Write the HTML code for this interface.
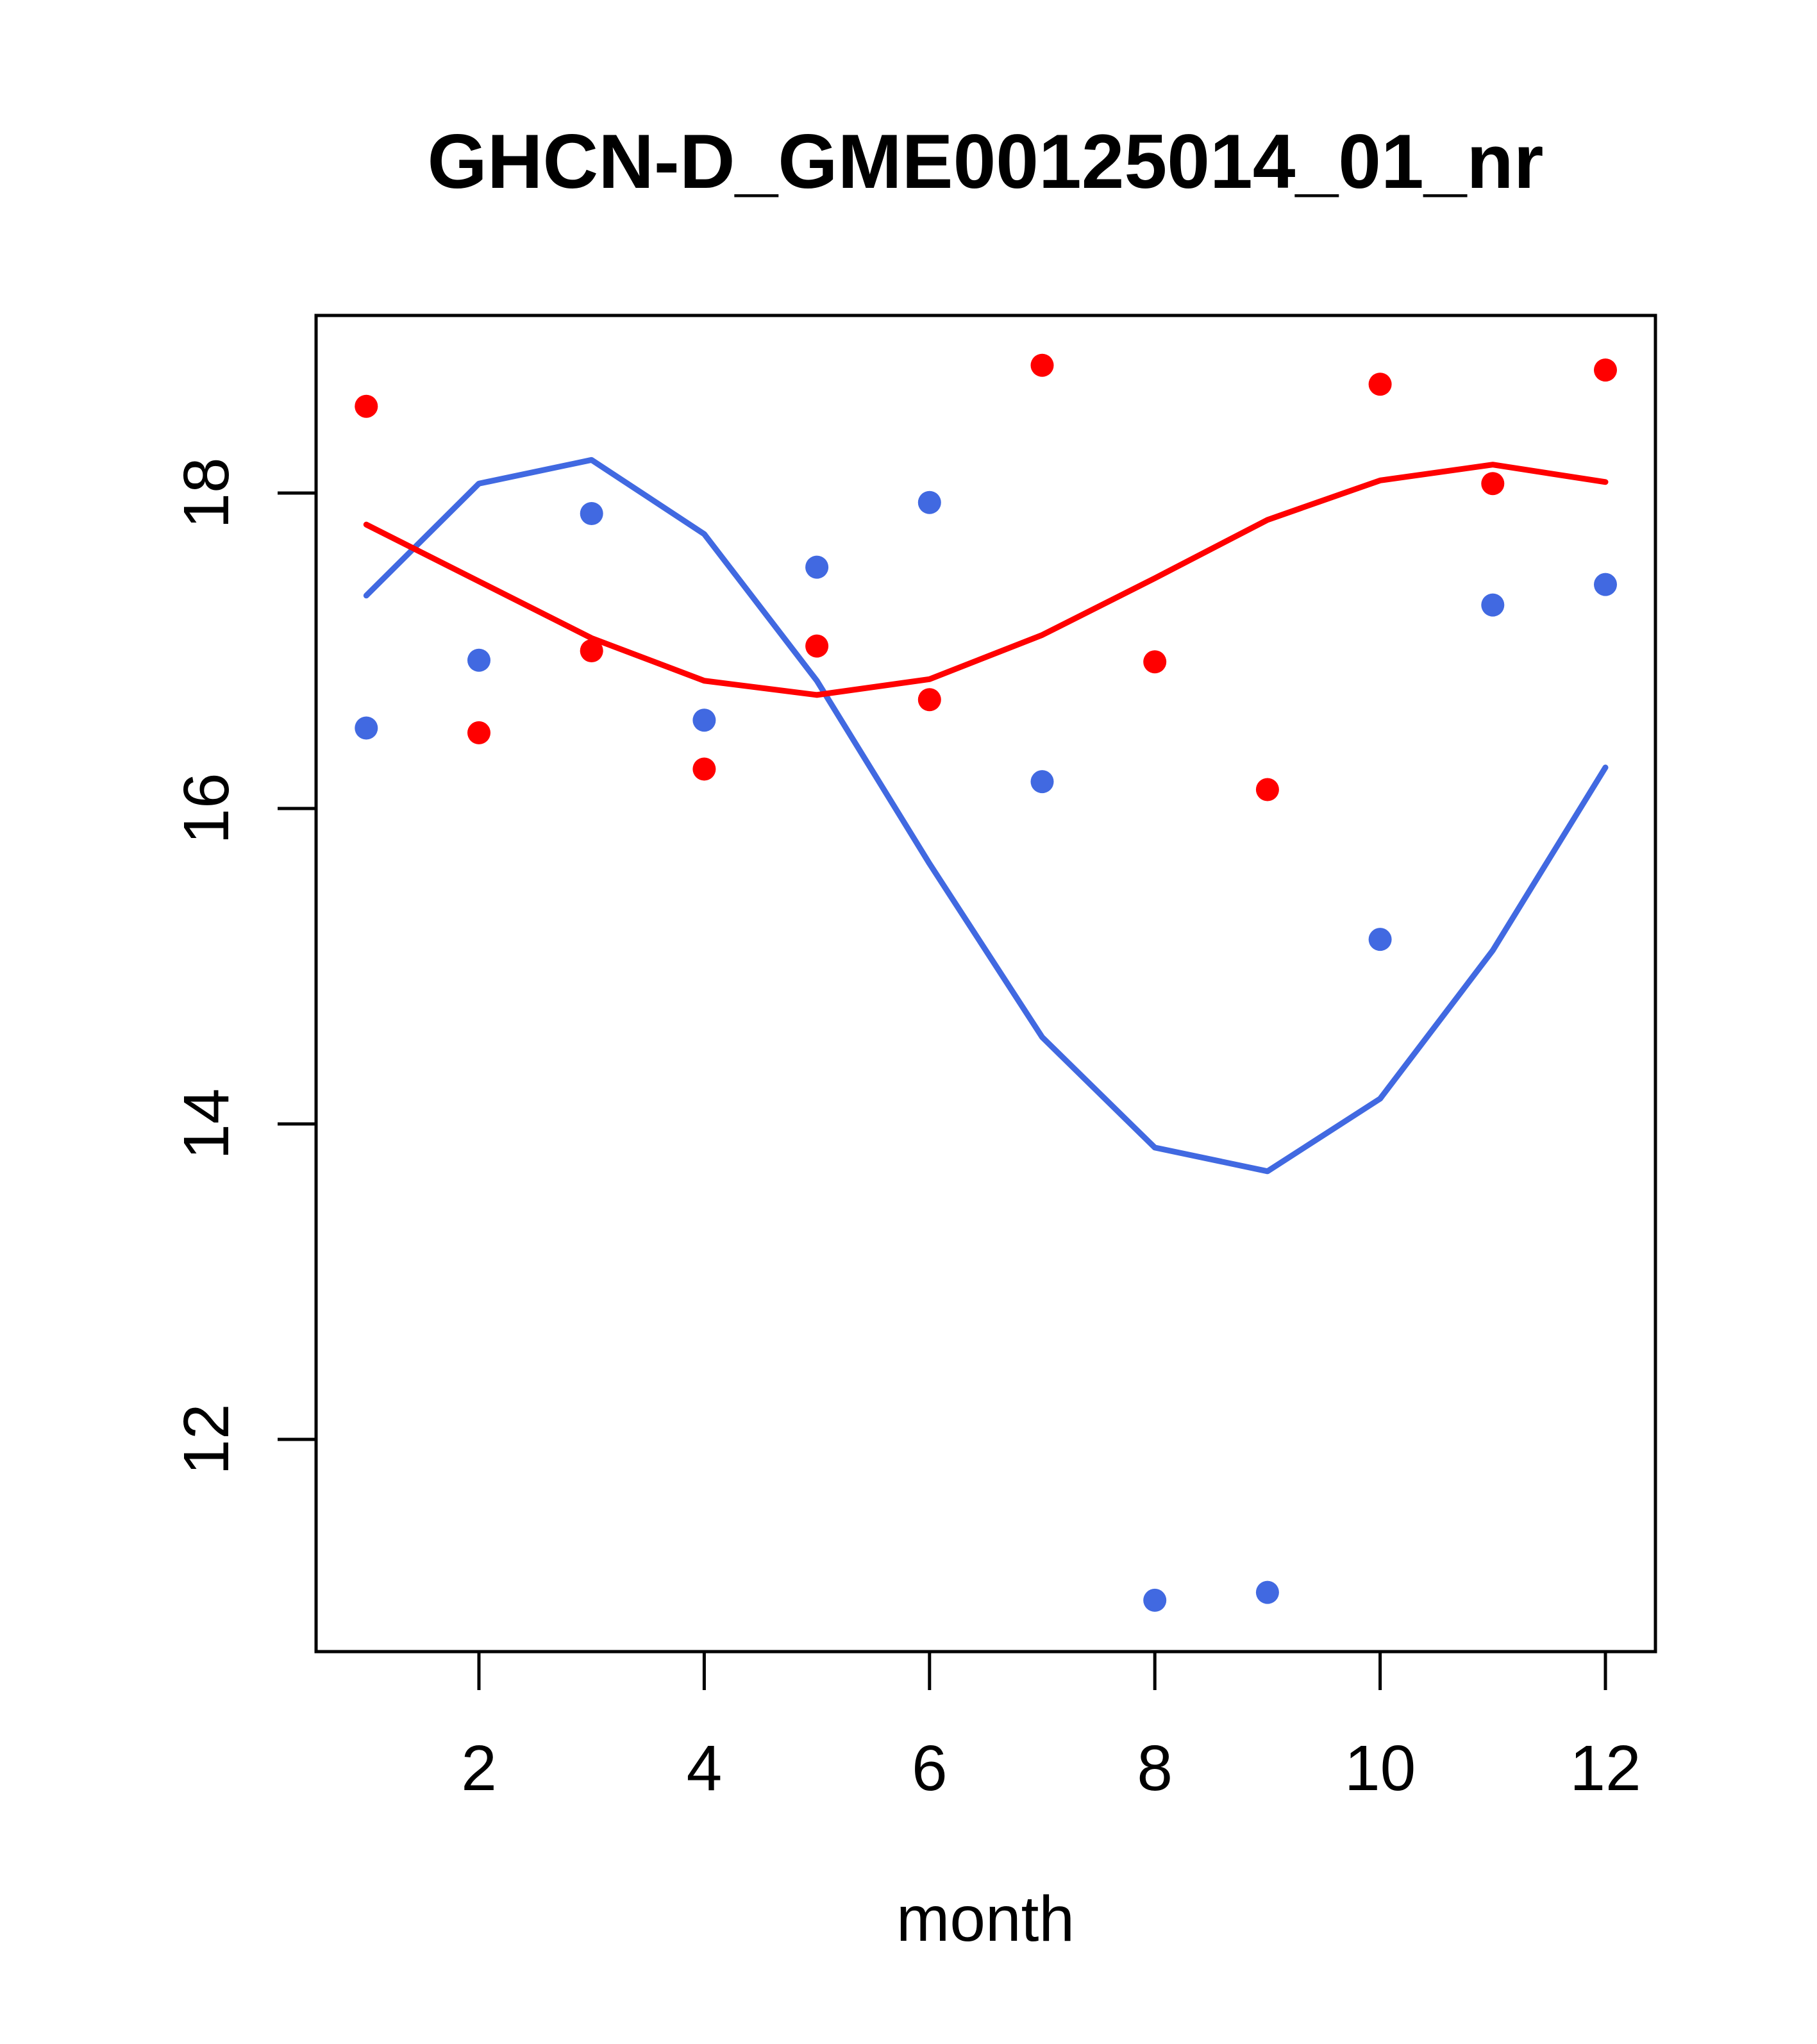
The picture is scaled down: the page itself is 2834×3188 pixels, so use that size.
<!DOCTYPE html>
<html><head><meta charset="utf-8"><style>
html,body{margin:0;padding:0;background:#fff;}
svg{display:block;font-family:"Liberation Sans",sans-serif;}
</style></head><body>
<svg id="chart" width="2834" height="3188" viewBox="0 0 2834 3188">
<rect width="2834" height="3188" fill="#fff"/>
<text x="1537" y="293" font-size="120" font-weight="bold" text-anchor="middle">GHCN-D_GME00125014_01_nr</text>
<rect x="493" y="492" width="2089" height="2084" fill="none" stroke="#000" stroke-width="5"/>
<g id="xaxis"></g>
<g id="yaxis"></g>
<text x="1537" y="3027" font-size="100" text-anchor="middle">month</text>
<g id="marks"></g>
</svg>
<script>
const months = [1,2,3,4,5,6,7,8,9,10,11,12];
const redPoints = [18.55,16.48,17.0,16.25,17.03,16.69,18.81,16.93,16.12,18.69,18.06,18.78];
const bluePoints = [16.51,16.94,17.87,16.56,17.53,17.94,16.17,10.98,11.03,15.17,17.29,17.42];
const redLine = [17.80,17.44,17.08,16.81,16.72,16.82,17.10,17.46,17.83,18.08,18.18,18.07];
const blueLine = [17.35,18.06,18.21,17.74,16.81,15.65,14.55,13.85,13.70,14.16,15.10,16.26];
const xTicks = [2,4,6,8,10,12];
const yTicks = [12,14,16,18];

const NS = "http://www.w3.org/2000/svg";
function xs(m){ return 747 + (m-2)*(2504-747)/10; }
function ys(v){ return 769 + (18-v)*(2245-769)/6; }
function mk(tag, attrs, parent){
  const e = document.createElementNS(NS, tag);
  for (const k in attrs) e.setAttribute(k, attrs[k]);
  parent.appendChild(e);
  return e;
}
const xa = document.getElementById('xaxis');
const ya = document.getElementById('yaxis');
const marks = document.getElementById('marks');

xTicks.forEach(t => {
  const l = mk('line', {x1: xs(t), x2: xs(t), y1: 2576, y2: 2636, stroke: '#000', 'stroke-width': 5}, xa);
  
  
  const tx = mk('text', {x: xs(t), y: 2792, 'font-size': 100, 'text-anchor': 'middle'}, xa);
  tx.textContent = t;
  
  
});
yTicks.forEach(t => {
  const l = mk('line', {x1: 433, x2: 493, y1: ys(t), y2: ys(t), stroke: '#000', 'stroke-width': 5}, ya);
  
  
  const tx = mk('text', {x: 356, y: ys(t), 'font-size': 100, 'text-anchor': 'middle', transform: 'rotate(-90 356 ' + ys(t) + ')'}, ya);
  tx.textContent = t;
  
  
});

function line(vals, color, name){
  const p = mk('polyline', {points: months.map((m,i)=>xs(m)+','+ys(vals[i])).join(' '), fill: 'none', stroke: color, 'stroke-width': 9, 'stroke-linejoin': 'round', 'stroke-linecap': 'round'}, marks);
  
  
}
function pts(vals, color, name){
  months.forEach((m,i) => {
    const c = mk('circle', {cx: xs(m), cy: ys(vals[i]), r: 18, fill: color}, marks);
    
    
  });
}
line(blueLine, '#4169E1', 'blue-line');
line(redLine, '#FF0000', 'red-line');
pts(redPoints, '#FF0000', 'red-point');
pts(bluePoints, '#4169E1', 'blue-point');
</script>
</body></html>
